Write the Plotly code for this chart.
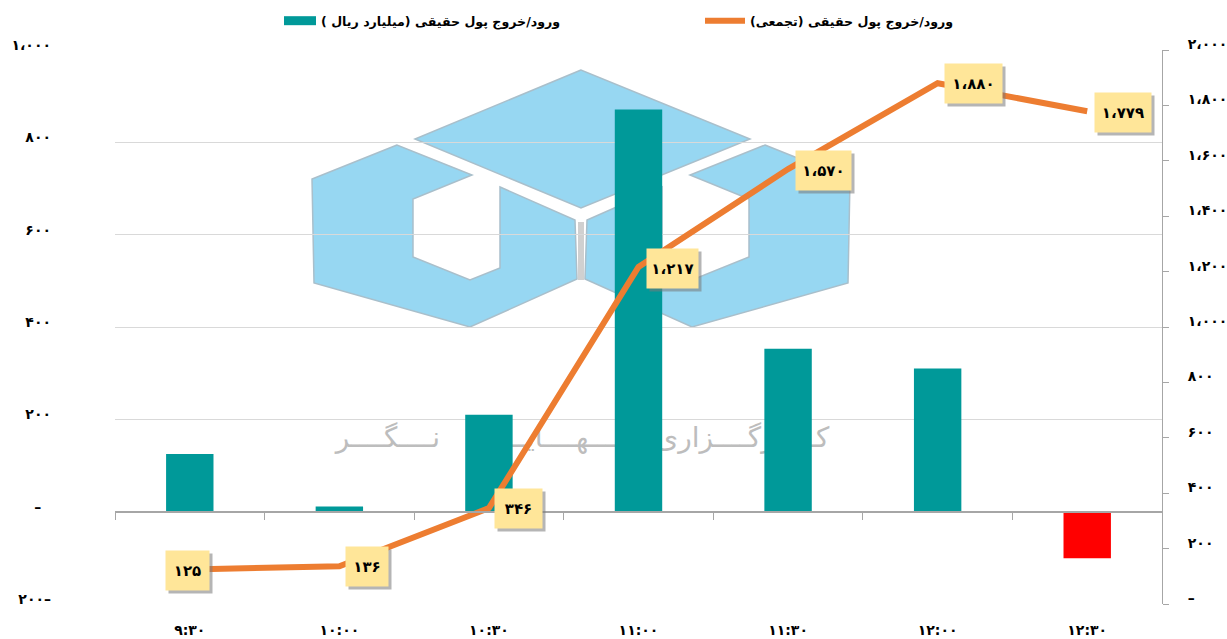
import plotly.graph_objects as go

# ---- data ----
categories = ["۹:۳۰", "۱۰:۰۰", "۱۰:۳۰", "۱۱:۰۰", "۱۱:۳۰", "۱۲:۰۰", "۱۲:۳۰"]
net_flow = [125, 11, 210, 871, 353, 310, -101]
cumulative = [125, 136, 346, 1217, 1570, 1880, 1779]
cumulative_labels = ["۱۲۵", "۱۳۶", "۳۴۶", "۱،۲۱۷", "۱،۵۷۰", "۱،۸۸۰", "۱،۷۷۹"]
left_ticks = [1000, 800, 600, 400, 200, 0, -200]
left_tick_text = ["۱،۰۰۰", "۸۰۰", "۶۰۰", "۴۰۰", "۲۰۰", "–\u00a0\u00a0", "۲۰۰–"]
right_ticks = [2000, 1800, 1600, 1400, 1200, 1000, 800, 600, 400, 200, 0]
right_tick_text = ["۲،۰۰۰", "۱،۸۰۰", "۱،۶۰۰", "۱،۴۰۰", "۱،۲۰۰", "۱،۰۰۰", "۸۰۰", "۶۰۰", "۴۰۰", "۲۰۰", "–"]
bar_name = "ورود/خروج پول حقیقی (میلیارد ریال )"
line_name = "ورود/خروج پول حقیقی (تجمعی)"
watermark_text = "کــــارگــــزاری   نــــهــــایــــت   نــــگــــر"

# ---- styles / layout constants ----
W, H = 1227, 639
L, R, T, B = 115, 1162, 50, 604
FONT = "DejaVu Sans"
TEAL = "#009999"
RED = "#FF0000"
ORANGE = "#ED7D31"
GRID = "#D9D9D9"
AXIS = "#A6A6A6"
label_dx = [-2, 28, 30, 34, 35, 36, 36]
label_dy = [-1, 0, 0, -2, -1, 0, -1]
label_w = [41, 40, 45, 49, 53, 55, 54]


def px(x):
    return (x - L) / (R - L)


def py(y):
    return (B - y) / (B - T)


fig = go.Figure()
fig.add_bar(
    x=categories, y=net_flow, width=0.317, showlegend=False,
    marker=dict(color=[RED if v < 0 else TEAL for v in net_flow], line_width=0),
)
# legend keys (wide swatches, as in the reference)
fig.add_scatter(x=[None], y=[None], mode="lines", name=bar_name,
                line=dict(color=TEAL, width=9), legend="legend")
fig.add_scatter(
    x=categories, y=cumulative, mode="lines", name=line_name, yaxis="y2",
    line=dict(color=ORANGE, width=6), legend="legend2",
)

# watermark logo, drawn below the grid
LOGO = "#97D7F2"
LOGO_EDGE = "#A9BFCB"
left_piece = [(397, 145), (312, 179), (314, 283), (470, 327), (577, 279), (575, 220), (500, 187),
              (500, 268), (470, 280), (413, 257), (413, 199), (472, 175)]
right_piece = [(1162 - x, y) for x, y in left_piece]
top_piece = [(581, 70), (415, 139), (581, 208), (750, 139)]
shapes = []
for pts in (left_piece, right_piece, top_piece):
    d = "M" + "L".join(f"{px(x):.5f},{py(y):.5f}" for x, y in pts) + "Z"
    shapes.append(dict(type="path", path=d, xref="paper", yref="paper", layer="below",
                       fillcolor=LOGO, line=dict(color=LOGO_EDGE, width=1.5)))
shapes.append(dict(type="rect", xref="paper", yref="paper", layer="below",
                   x0=px(578), x1=px(584), y0=py(280), y1=py(222),
                   fillcolor="#D0D0D0", line_width=0))
shapes.append(dict(type="rect", xref="paper", yref="paper", layer="below",
                   x0=px(320), x1=px(845), y0=py(420), y1=py(450),
                   fillcolor="rgba(0,0,0,0)", line_width=0,
                   label=dict(text=watermark_text, textposition="middle center",
                              font=dict(family=FONT, size=28, color="#BDBDBD"))))

# value labels with a soft shadow
annotations = []
for i, c in enumerate(categories):
    for shadow in (True, False):
        annotations.append(dict(
            x=c, y=cumulative[i], xref="x", yref="y2", showarrow=False,
            text="\u00a0" if shadow else cumulative_labels[i],
            width=label_w[i], height=37, align="center", valign="middle",
            xshift=label_dx[i] + (3 if shadow else 0),
            yshift=label_dy[i] - (3 if shadow else 0),
            bgcolor="rgba(120,120,120,0.55)" if shadow else "#FFE699",
            font=dict(family=FONT, size=15, color="black", weight="bold"),
        ))

tick_font = dict(family=FONT, size=14, color="black", weight="bold")
legend_font = dict(family=FONT, size=12.6, color="black", weight="bold")
fig.update_layout(
    width=W, height=H, autosize=False,
    margin=dict(l=L, r=W - R, t=T, b=H - B, pad=0),
    paper_bgcolor="white", plot_bgcolor="white",
    bargap=0.683,
    xaxis=dict(
        type="category", categoryorder="array", categoryarray=categories,
        tickmode="array", tickvals=categories, ticktext=categories,
        tickson="boundaries", ticks="outside", ticklen=7, tickcolor=AXIS, tickwidth=1,
        showline=True, linecolor=AXIS, linewidth=1.5, showgrid=False, zeroline=False,
        anchor="free", position=(B - 512) / (B - T), ticklabelstandoff=105,
        tickfont=tick_font, fixedrange=True, automargin=False,
    ),
    yaxis=dict(
        range=[-200, 1000], tickmode="array", tickvals=left_ticks, ticktext=left_tick_text,
        showgrid=True, gridcolor=GRID, gridwidth=1, zeroline=False, showline=False, ticks="",
        ticklabelstandoff=63, ticklabelshift=-5, tickfont=tick_font, fixedrange=True, automargin=False,
    ),
    yaxis2=dict(
        range=[0, 2000], overlaying="y", side="right", anchor="free", position=1,
        tickmode="array", tickvals=right_ticks, ticktext=right_tick_text,
        showgrid=False, zeroline=False, showline=True, linecolor=AXIS, linewidth=1,
        ticks="outside", ticklen=6, tickcolor=AXIS, ticklabelstandoff=16, ticklabelshift=-6,
        tickfont=tick_font, fixedrange=True, automargin=False,
    ),
    legend=dict(xref="container", yref="container", x=279 / W, y=1 - 6 / H,
                xanchor="left", yanchor="top", orientation="h",
                itemwidth=32, bgcolor="rgba(0,0,0,0)", font=legend_font, traceorder="normal"),
    legend2=dict(xref="container", yref="container", x=700 / W, y=1 - 6 / H,
                 xanchor="left", yanchor="top", orientation="h",
                 itemwidth=40, bgcolor="rgba(0,0,0,0)", font=legend_font),
    shapes=shapes, annotations=annotations,
)
fig.write_html("out.html", config={"displayModeBar": False},
               post_script="document.body.style.margin='0';")
